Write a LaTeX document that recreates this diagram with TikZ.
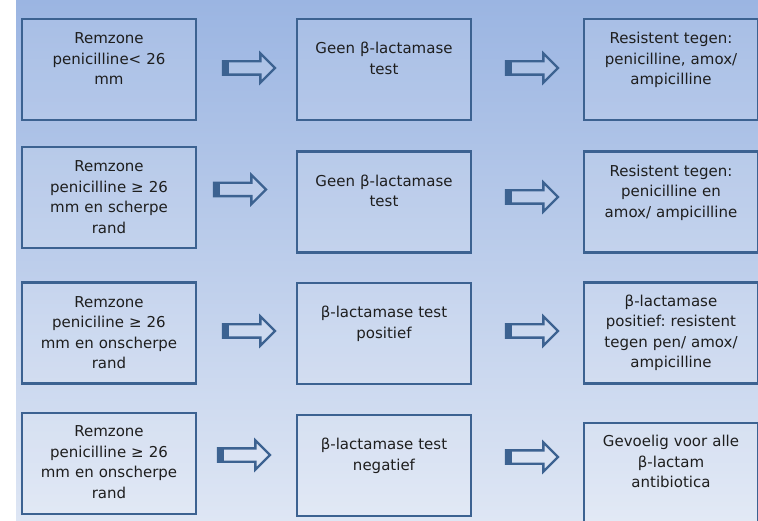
\documentclass[tikz,border=0pt]{standalone}
\usepackage{fontspec}
\setmainfont{DejaVu Sans}
\usetikzlibrary{positioning,shapes.arrows}
\frenchspacing

\definecolor{rand}{HTML}{3C6291}
\definecolor{bgtop}{HTML}{9BB5E2}
\definecolor{bgbot}{HTML}{DEE6F4}
\definecolor{tekst}{HTML}{1E1E1E}

\begin{document}
\begin{tikzpicture}[x=1pt,y=-1pt,
        box/.style={draw=rand,line width=2.5pt,fill=white,fill opacity=0.12,
            minimum width=174pt,minimum height=101pt,inner sep=0pt,outer sep=0pt},
        lbl/.style={text=tekst,text width=172pt,align=center,inner sep=0pt,
            font=\fontsize{15}{20.5}\selectfont},
        pijl/.style={single arrow,draw=rand,line width=2.3pt,fill=white,fill opacity=0.12,
            minimum height=52pt,inner xsep=0pt,inner ysep=5.5pt,single arrow head extend=8pt,
            outer sep=0pt,anchor=tail,
            path picture={\fill[rand,fill opacity=1] (path picture bounding box.south west)
                rectangle ([xshift=6pt]path picture bounding box.north west);}}]
    \useasboundingbox (0,0) rectangle (758,521);
    \clip (0,0) rectangle (758,521);

    % achtergrond
    \fill[white] (0,0) rectangle (758,521);
    \shade[top color=bgtop,bottom color=bgbot] (16,0) rectangle (758,521);

    % kolom 1: remzone
    \node[box] (z1) at (109,69.5) {};
    \node[box] (z2) at (109,197.5) {};
    \node[box] (z3) at (109,333) {};
    \node[box] (z4) at (109,463.5) {};

    % kolom 2: test
    \node[box] (t1) at (384,69.5) {};
    \node[box] (t2) at (384,202) {};
    \node[box] (t3) at (384,333.5) {};
    \node[box] (t4) at (384,465.5) {};

    % kolom 3: uitslag
    \node[box] (u1) at (671,69.5) {};
    \node[box] (u2) at (671,202) {};
    \node[box] (u3) at (671,333) {};
    \node[box] (u4) at (671,473.5) {};

    % teksten
    \node[lbl,below=10pt of z1.north] (z1t) {\strut Remzone\\penicilline< 26\\mm};
    \node[lbl,below=10pt of z2.north] (z2t) {\strut Remzone\\penicilline ≥ 26\\mm en scherpe\\rand};
    \node[lbl,below=10pt of z3.north] (z3t) {\strut Remzone\\peniciline ≥ 26\\mm en onscherpe\\rand};
    \node[lbl,below=9pt of z4.north] (z4t) {\strut Remzone\\penicilline ≥ 26\\mm en onscherpe\\rand};

    \node[lbl,below=20pt of t1.north] (t1t) {\strut Geen β-lactamase\\test};
    \node[lbl,below=20pt of t2.north] (t2t) {\strut Geen β-lactamase\\test};
    \node[lbl,below=20pt of t3.north] (t3t) {\strut β-lactamase test\\positief};
    \node[lbl,below=20pt of t4.north] (t4t) {\strut β-lactamase test\\negatief};

    \node[lbl,below=10pt of u1.north] (u1t) {\strut Resistent tegen:\\penicilline, amox/\\ampicilline};
    \node[lbl,below=10pt of u2.north] (u2t) {\strut Resistent tegen:\\penicilline en\\amox/ ampicilline};
    \node[lbl,below=9pt of u3.north] (u3t) {\strut β-lactamase\\positief: resistent\\tegen pen/ amox/\\ampicilline};
    \node[lbl,below=9pt of u4.north] (u4t) {\strut Gevoelig voor alle\\β-lactam\\antibiotica};

    % pijlen
    \node[pijl] (a1) at (223,68) {};
    \node[pijl] (a2) at (214,189.5) {};
    \node[pijl] (a3) at (223,331) {};
    \node[pijl] (a4) at (218,455) {};

    \node[pijl] (b1) at (506,68) {};
    \node[pijl] (b2) at (506,197) {};
    \node[pijl] (b3) at (506,331) {};
    \node[pijl] (b4) at (506,457) {};
\end{tikzpicture}
\end{document}
